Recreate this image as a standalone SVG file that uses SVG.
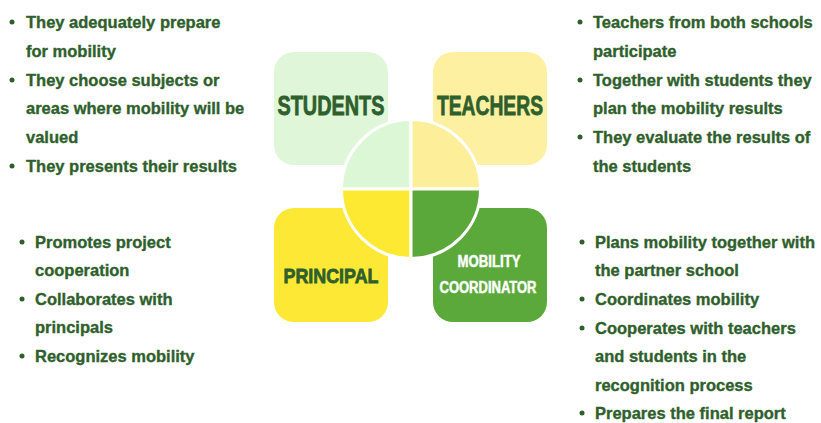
<svg xmlns="http://www.w3.org/2000/svg" width="821" height="423" viewBox="0 0 821 423">
<style>
.t{font-family:"Liberation Sans",Arial,sans-serif;font-weight:bold;font-size:16.5px;fill:#2f5f2c;stroke:#2f5f2c;stroke-width:0.35}
.b{fill:#2f5f2c}
.lbl{font-family:"Liberation Sans",Arial,sans-serif;font-weight:bold;fill:#2f5f2c;stroke:#2f5f2c;stroke-width:0.8}
.w{fill:#fff;stroke:#fff;stroke-width:0.5}
.q{stroke:#fff;stroke-width:3}
</style>
<rect width="821" height="423" fill="#fff"/>
<g id="students"><rect x="274" y="52" width="114" height="113" rx="20" fill="#dff7d8"/><text class="lbl" x="331" y="115" font-size="27" text-anchor="middle" textLength="107" lengthAdjust="spacingAndGlyphs">STUDENTS</text></g>
<g id="teachers"><rect x="433" y="52" width="114" height="113" rx="20" fill="#fdf0a0"/><text class="lbl" x="490" y="115" font-size="27" text-anchor="middle" textLength="106" lengthAdjust="spacingAndGlyphs">TEACHERS</text></g>
<g id="principal"><rect x="274" y="208" width="114" height="114" rx="20" fill="#fde935"/><text class="lbl" x="331" y="283" font-size="21" text-anchor="middle" textLength="95" lengthAdjust="spacingAndGlyphs">PRINCIPAL</text></g>
<g id="mobility-coordinator"><rect x="433" y="208" width="114" height="114" rx="20" fill="#5aa93a"/><text class="lbl w" x="489" y="267" font-size="17" text-anchor="middle" textLength="63" lengthAdjust="spacingAndGlyphs">MOBILITY</text><text class="lbl w" x="488" y="293" font-size="16" text-anchor="middle" textLength="97" lengthAdjust="spacingAndGlyphs">COORDINATOR</text></g>
<g id="circle">
<circle cx="411" cy="189" r="70.5" fill="#fff"/>
<path d="M411 189 L341.5 189 A69.5 69.5 0 0 1 411 119.5 Z" fill="#dcf7d6" class="q"/>
<path d="M411 189 L411 119.5 A69.5 69.5 0 0 1 480.5 189 Z" fill="#fdee9a" class="q"/>
<path d="M411 189 L341.5 189 A69.5 69.5 0 0 0 411 258.5 Z" fill="#fde832" class="q"/>
<path d="M411 189 L411 258.5 A69.5 69.5 0 0 0 480.5 189 Z" fill="#5aa83a" class="q"/>
</g>
<g id="students-text">
<circle class="b" cx="12" cy="22" r="2.5"/><text class="t" x="26" y="28">They adequately prepare</text>
<text class="t" x="26" y="57">for mobility</text>
<circle class="b" cx="12" cy="80" r="2.5"/><text class="t" x="26" y="86">They choose subjects or</text>
<text class="t" x="26" y="114">areas where mobility will be</text>
<text class="t" x="26" y="143">valued</text>
<circle class="b" cx="12" cy="166" r="2.5"/><text class="t" x="26" y="172">They presents their results</text>
</g>
<g id="teachers-text">
<circle class="b" cx="580" cy="22" r="2.5"/><text class="t" x="593" y="28">Teachers from both schools</text>
<text class="t" x="593" y="57">participate</text>
<circle class="b" cx="580" cy="80" r="2.5"/><text class="t" x="593" y="86">Together with students they</text>
<text class="t" x="593" y="114">plan the mobility results</text>
<circle class="b" cx="580" cy="137" r="2.5"/><text class="t" x="593" y="143">They evaluate the results of</text>
<text class="t" x="593" y="172">the students</text>
</g>
<g id="principal-text">
<circle class="b" cx="22" cy="242" r="2.5"/><text class="t" x="35" y="248">Promotes project</text>
<text class="t" x="35" y="276">cooperation</text>
<circle class="b" cx="22" cy="299" r="2.5"/><text class="t" x="35" y="305">Collaborates with</text>
<text class="t" x="35" y="333">principals</text>
<circle class="b" cx="22" cy="356" r="2.5"/><text class="t" x="35" y="362">Recognizes mobility</text>
</g>
<g id="coordinator-text">
<circle class="b" cx="582" cy="242" r="2.5"/><text class="t" x="595" y="248">Plans mobility together with</text>
<text class="t" x="595" y="276">the partner school</text>
<circle class="b" cx="582" cy="299" r="2.5"/><text class="t" x="595" y="305">Coordinates mobility</text>
<circle class="b" cx="582" cy="328" r="2.5"/><text class="t" x="595" y="334">Cooperates with teachers</text>
<text class="t" x="595" y="362">and students in the</text>
<text class="t" x="595" y="391">recognition process</text>
<circle class="b" cx="582" cy="413" r="2.5"/><text class="t" x="595" y="419">Prepares the final report</text>
</g>
</svg>
